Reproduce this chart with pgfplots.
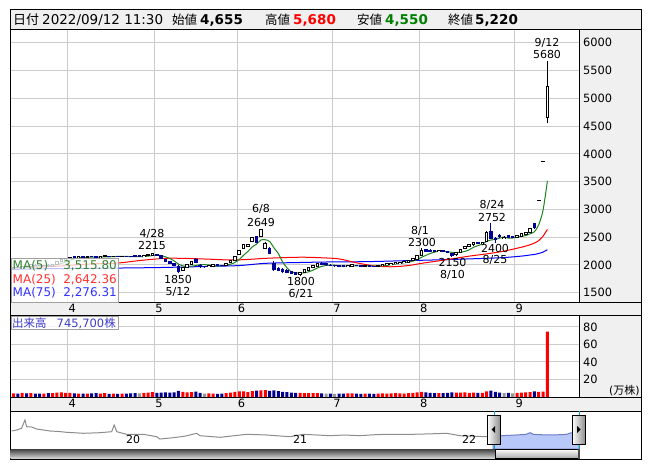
\documentclass[border=0pt]{standalone}
\usepackage{fontspec}
\setmainfont{DejaVu Sans}
\newfontfamily\jp{Noto Sans CJK JP}
\usepackage{pgfplots}
\usepackage{pgfplotstable}
\pgfplotsset{compat=1.18}

\definecolor{panel}{RGB}{240,240,240}
\definecolor{gridc}{RGB}{204,204,204}
\definecolor{cblue}{RGB}{0,0,150}
\definecolor{vred}{RGB}{255,0,0}
\definecolor{vblue}{RGB}{0,0,140}
\definecolor{vgray}{RGB}{150,150,150}
\definecolor{ma5}{RGB}{30,130,30}
\definecolor{ma25}{RGB}{255,0,0}
\definecolor{ma75}{RGB}{0,0,255}
\definecolor{navline}{RGB}{140,140,140}
\definecolor{navfill}{RGB}{184,200,248}
\definecolor{navblue}{RGB}{110,125,200}
\definecolor{selc}{RGB}{0,160,210}
\definecolor{hgreen}{RGB}{0,128,0}
\definecolor{boxgray}{RGB}{160,160,160}
\definecolor{voltext}{RGB}{60,60,200}
\definecolor{txtgreen}{RGB}{50,130,50}
\definecolor{txtred}{RGB}{255,50,50}
\definecolor{txtblue}{RGB}{50,50,255}

\newcommand\tk{\fontsize{11.4}{13}\selectfont}
\newcommand\an{\fontsize{11}{13}\selectfont}
\newcommand\hd{\fontsize{13.5}{15}\selectfont}

\pgfplotsset{
  upday/.style={restrict expr to domain={\thisrow{u}}{0.5:1.5}},
  downday/.style={restrict expr to domain={\thisrow{u}}{-0.5:0.5}},
  candlebase/.style={draw=none, mark=none, forget plot,
    error bars/y dir=plus, error bars/y explicit, error bars/error mark=none},
  volbar/.style={ybar, bar width=3pt, bar shift=0pt, draw=none, forget plot},
  panelaxis/.style={
    scale only axis, width=569pt,
    xmin=-13.82, xmax=117.28,
    axis line style={draw=none},
    major tick length=0pt,
    xtick={-0.5,19.5,38.5,60.5,80.5,102.5},
    xticklabels={4,5,6,7,8,9},
    xmajorgrids, ymajorgrids,
    grid style={gridc, line width=1pt},
    tick label style={font=\tk, inner sep=0pt},
    xticklabel style={anchor=north, xshift=4.5pt},
    yticklabel pos=right,
    yticklabel style={anchor=west, xshift=4pt},
  },
}

% day index (0 = 2022/4/1), open, high, low, close, volume (10k shares), volume colour, up candle, MA5
\pgfplotstableread{
i o h l c v k u m5
-14 1950 1960 1920 1930 4.5 2 0 1950
-13 1930 1970 1925 1960 4.2 1 1 1952
-12 1960 1975 1940 1950 4.0 2 0 1953
-11 1950 1990 1945 1980 4.6 1 1 1955
-10 1980 1990 1960 1970 4.1 2 0 1958
-9 1970 2010 1965 2000 4.4 1 1 1972
-8 2000 2010 1980 1990 3.9 2 0 1978
-7 1990 2000 1975 1985 3.8 2 0 1985
-6 1985 2005 1980 1995 4.0 1 1 1988
-5 2000 2010 1970 1980 4.3 2 0 1990
-4 1980 2020 1975 2010 4.5 1 1 1992
-3 2010 2070 2005 2060 5.0 1 1 2006
-2 2060 2110 2050 2100 5.2 1 1 2029
-1 2100 2130 2090 2120 4.8 1 1 2054
0 2120 2150 2110 2140 4.6 1 1 2086
1 2150 2160 2125 2130 4.2 2 0 2110
2 2130 2160 2120 2150 4.0 1 1 2128
3 2150 2160 2130 2135 3.8 2 0 2135
4 2135 2160 2130 2150 3.9 1 1 2141
5 2160 2165 2135 2140 4.1 2 0 2141
6 2150 2160 2125 2130 4.3 2 0 2141
7 2130 2160 2125 2150 4.0 1 1 2141
8 2150 2175 2145 2165 4.4 1 1 2147
9 2165 2170 2140 2150 3.7 2 0 2147
10 2150 2170 2145 2160 3.9 1 1 2151
11 2160 2170 2140 2150 3.6 2 0 2155
12 2145 2170 2140 2160 4.0 1 1 2157
13 2160 2170 2145 2150 3.8 2 0 2154
14 2160 2165 2135 2140 4.2 2 0 2152
15 2170 2180 2145 2150 4.5 2 0 2150
16 2180 2185 2145 2150 4.1 3 0 2150
17 2150 2180 2145 2170 4.6 1 1 2152
18 2170 2195 2160 2185 5.0 1 1 2159
19 2170 2215 2165 2200 5.6 1 1 2171
20 2190 2200 2160 2170 4.8 2 0 2175
21 2170 2180 2110 2120 5.1 2 0 2169
22 2100 2110 2050 2060 5.3 2 0 2147
23 2060 2070 2020 2030 4.9 2 0 2116
24 2030 2040 1980 1990 5.4 2 0 2074
25 1980 2000 1850 1880 7.0 2 0 2016
26 1900 1970 1890 1960 6.0 1 1 1984
27 1960 2020 1950 2010 5.2 1 1 1974
28 2010 2070 2000 2060 5.5 1 1 1980
29 2110 2120 2030 2040 6.2 2 0 1990
30 2000 2010 1950 1960 4.8 2 0 2006
31 1980 1990 1950 1960 4.0 3 0 2006
32 1970 2000 1960 1990 4.1 1 1 2002
33 1980 2010 1975 2000 3.9 1 1 1990
34 2010 2015 1985 1990 3.7 2 0 1980
35 2000 2005 1980 1985 3.8 2 0 1985
36 1990 2030 1985 2020 4.4 1 1 1997
37 2040 2090 2030 2080 5.0 1 1 2015
38 2080 2160 2075 2150 5.8 1 1 2045
39 2190 2270 2180 2260 6.3 1 1 2099
40 2300 2380 2290 2370 6.5 1 1 2176
41 2330 2380 2320 2360 5.6 1 1 2244
42 2420 2500 2410 2490 6.8 1 1 2326
43 2510 2530 2390 2400 7.2 2 0 2376
44 2510 2649 2500 2630 7.5 1 1 2450
45 2300 2420 2280 2390 7.8 1 1 2454
46 2300 2320 2200 2210 7.0 2 0 2424
47 2040 2080 1900 1910 7.6 2 0 2308
48 1950 1970 1890 1900 6.8 2 0 2208
49 1920 1940 1860 1870 6.0 2 0 2056
50 1910 1920 1850 1860 5.5 2 0 1950
51 1880 1890 1830 1840 5.0 2 0 1876
52 1870 1875 1815 1830 4.8 2 0 1860
53 1830 1880 1800 1860 4.6 1 1 1852
54 1860 1920 1855 1910 4.5 1 1 1860
55 1900 1960 1895 1950 4.4 1 1 1878
56 1950 2000 1940 1990 4.3 1 1 1908
57 1980 2030 1975 2020 4.5 1 1 1946
58 2040 2050 1995 2000 4.2 2 0 1974
59 2030 2035 1990 2000 3.9 3 0 1992
60 2000 2010 1975 1980 3.8 2 0 1998
61 1990 2000 1970 1980 3.7 3 0 1996
62 1990 1995 1960 1970 3.9 2 0 1986
63 1990 1995 1955 1965 4.0 2 0 1979
64 1975 2005 1970 1995 4.2 1 1 1978
65 1965 2010 1960 2000 4.1 1 1 1982
66 2000 2005 1980 1985 3.8 2 0 1983
67 1995 2000 1970 1975 3.7 2 0 1984
68 1980 1995 1975 1990 3.9 1 1 1989
69 1990 1995 1965 1970 3.8 2 0 1984
70 1985 1990 1970 1975 3.6 2 0 1979
71 1975 1995 1970 1990 3.9 1 1 1980
72 1990 2015 1985 2010 4.1 1 1 1987
73 2000 2025 1995 2020 4.0 1 1 1993
74 2010 2035 2005 2030 4.2 1 1 2005
75 2020 2045 2015 2040 4.3 1 1 2018
76 2030 2055 2025 2050 4.1 1 1 2030
77 2040 2065 2035 2060 4.0 1 1 2040
78 2050 2085 2045 2080 4.4 1 1 2052
79 2080 2125 2075 2120 4.8 1 1 2070
80 2100 2180 2095 2170 5.4 1 1 2096
81 2170 2300 2165 2260 6.0 1 1 2138
82 2280 2290 2230 2240 5.2 2 0 2174
83 2270 2280 2235 2245 4.8 2 0 2207
84 2265 2270 2230 2240 4.5 2 0 2231
85 2240 2270 2235 2260 4.4 1 1 2249
86 2260 2265 2230 2240 4.3 2 0 2245
87 2250 2255 2210 2220 4.6 2 0 2241
88 2210 2220 2150 2170 5.3 2 0 2226
89 2180 2240 2170 2230 4.9 1 1 2224
90 2230 2290 2225 2280 5.0 1 1 2228
91 2290 2340 2280 2330 5.2 1 1 2246
92 2330 2370 2320 2360 4.8 1 1 2274
93 2360 2410 2350 2400 5.0 1 1 2320
94 2410 2420 2370 2380 4.6 2 0 2350
95 2380 2410 2370 2400 4.7 1 1 2374
96 2420 2610 2410 2590 6.3 1 1 2426
97 2600 2752 2460 2480 7.2 2 0 2450
98 2490 2510 2400 2450 6.0 2 0 2460
99 2540 2560 2490 2500 5.0 2 0 2484
100 2480 2520 2470 2500 4.5 3 1 2504
101 2530 2540 2480 2490 4.6 2 0 2484
102 2510 2520 2480 2490 4.2 3 0 2486
103 2490 2545 2485 2530 4.8 1 1 2502
104 2520 2570 2515 2560 5.0 1 1 2514
105 2540 2590 2535 2580 5.2 1 1 2530
106 2590 2665 2580 2652 5.6 1 1 2562
107 2750 2760 2650 2669 6.5 2 0 2598
108 3169 3169 3169 3169 6.0 1 1 2726
109 3869 3869 3869 3869 6.2 1 1 2988
110 4655 5680 4550 5220 74.57 1 1 3516
}\stock

\pgfplotstableread{
i m
-13.8 1945
-5 1970
0 1995
5 2020
11 2035
16 2080
22 2120
27 2118
32 2105
37 2090
41 2100
45 2120
50 2135
54 2140
58 2130
62 2110
66 2040
70 1985
74 1968
78 1990
81 2030
85 2075
88 2110
92 2160
96 2200
100 2250
104 2320
105 2340
106 2365
107 2395
108 2440
109 2520
110 2642
}\matwentyfive

\pgfplotstableread{
i m
-13.8 1920
-4 1935
5 1940
11 1945
21 1955
32 1975
39 1990
45 2030
53 2045
60 2055
68 2060
76 2075
88 2100
99 2130
104 2160
106 2180
107 2190
108 2208
109 2233
110 2276
}\maseventyfive

\pgfplotstableread{
yr h
2019.320 18
2019.349 19
2019.379 20.7
2019.399 29
2019.409 22.3
2019.439 22
2019.468 20
2019.548 18
2019.600 17.5
2019.647 16.7
2019.700 16.2
2019.746 15.7
2019.845 16.3
2019.915 17.3
2019.930 24
2019.945 17.3
2020.004 14.7
2020.103 14.7
2020.183 12.3
2020.202 10
2020.282 11.3
2020.350 12.8
2020.421 15.7
2020.440 13.3
2020.560 11.7
2020.640 13.2
2020.718 14.7
2020.838 14
2020.976 12.3
2021.055 14.7
2021.214 13.3
2021.300 14.0
2021.393 13.3
2021.470 14.2
2021.552 14.7
2021.710 14.7
2021.800 15.1
2021.909 15.7
2021.988 13.3
2022.060 12.8
2022.147 12.3
2022.185 12.8
}\navall

\pgfplotstableread{
yr h
2022.185 12.8
2022.226 13.3
2022.300 13.8
2022.380 14.6
2022.405 16.3
2022.424 14.7
2022.480 14.2
2022.543 14
2022.620 14.6
2022.653 16.3
2022.696 17.3
}\navsel

\begin{document}
\begin{tikzpicture}
\useasboundingbox (0pt,0pt) rectangle (653pt,-470pt);

% background panels
\begin{scope}[x=1pt,y=-1pt]
\fill[panel] (10,10) rectangle (641,30);
\fill[panel] (579,30) rectangle (641,302);
\fill[panel] (10,302) rectangle (641,315);
\fill[panel] (579,315) rectangle (641,397);
\fill[panel] (10,397) rectangle (641,411);
\end{scope}

% price panel
\begin{axis}[panelaxis,
  at={(10pt,-302pt)}, anchor=south west, height=272pt,
  ymin=1334, ymax=6230,
  ytick={1500,2000,2500,3000,3500,4000,4500,5000,5500,6000},
  yticklabels={1500,2000,2500,3000,3500,4000,4500,5000,5500,6000},
  xticklabel style={yshift=-2pt},
]
\addplot[ma75, line width=1pt, smooth, forget plot] table[x=i, y=m]{\maseventyfive};
\addplot[ma25, line width=1pt, smooth, forget plot] table[x=i, y=m]{\matwentyfive};
\addplot[ma5, line width=1pt, smooth, forget plot] table[x=i, y=m5]{\stock};
% rising candles: wick, outline, white body
\addplot[candlebase, upday, error bars/error bar style={draw=black, line width=1pt}]
  table[x=i, y=l, y error expr={\thisrow{h}-\thisrow{l}}]{\stock};
\addplot[candlebase, upday, error bars/error bar style={draw=black, line width=3.6pt}]
  table[x=i, y expr={min(\thisrow{o},\thisrow{c})-9}, y error expr={abs(\thisrow{c}-\thisrow{o})+18}]{\stock};
\addplot[candlebase, upday, error bars/error bar style={draw=white, line width=1.6pt}]
  table[x=i, y expr={min(\thisrow{o},\thisrow{c})+9}, y error expr={max(abs(\thisrow{c}-\thisrow{o})-18,0)}]{\stock};
% falling candles
\addplot[candlebase, downday, error bars/error bar style={draw=cblue, line width=1pt}]
  table[x=i, y=l, y error expr={\thisrow{h}-\thisrow{l}}]{\stock};
\addplot[candlebase, downday, error bars/error bar style={draw=cblue, line width=3.6pt}]
  table[x=i, y expr={min(\thisrow{o},\thisrow{c})-4}, y error expr={abs(\thisrow{c}-\thisrow{o})+8}]{\stock};
\end{axis}

% volume panel
\begin{axis}[panelaxis,
  at={(10pt,-397pt)}, anchor=south west, height=82pt,
  ymin=0, ymax=93.7,
  ytick={20,40,60,80}, yticklabels={20,40,60,80},
  xticklabel style={yshift=-1.5pt},
]
\addplot[volbar, fill=vred, restrict expr to domain={\thisrow{k}}{0.5:1.5}] table[x=i, y=v]{\stock};
\addplot[volbar, fill=vblue, restrict expr to domain={\thisrow{k}}{1.5:2.5}] table[x=i, y=v]{\stock};
\addplot[volbar, fill=vgray, restrict expr to domain={\thisrow{k}}{2.5:3.5}] table[x=i, y=v]{\stock};
\end{axis}

% navigator
\begin{axis}[at={(10pt,-449pt)}, anchor=south west, scale only axis,
  width=569pt, height=38pt, xmin=2019.31, xmax=2022.696, ymin=0, ymax=38, hide axis]
\addplot[navline, line width=1pt] table[x=yr, y=h]{\navall};
\addplot[navblue, fill=navfill, line width=1pt] table[x=yr, y=h]{\navsel} \closedcycle;
\end{axis}

\begin{scope}[x=1pt,y=-1pt]
% frame lines
\draw[black, line width=1pt] (10,10) rectangle (641,459);
\draw[black, line width=1pt] (10,30) -- (641,30);
\draw[black, line width=1pt] (10,302) -- (641,302);
\draw[black, line width=1pt] (10,315) -- (641,315);
\draw[black, line width=1pt] (10,397) -- (641,397);
\draw[black, line width=1pt] (10,411) -- (641,411);
\draw[black, line width=1pt] (579,30) -- (579,302);
\draw[black, line width=1pt] (579,315) -- (579,397);

% header
\node[anchor=base west, inner sep=0pt] at (13,25) {\fontsize{13}{15}\selectfont\jp 日付};
\node[anchor=base west, inner sep=0pt] at (42,25) {\hd 2022/09/12 11:30};
\node[anchor=base west, inner sep=0pt] at (172,25) {\fontsize{12.5}{15}\selectfont\jp 始値};
\node[anchor=base west, inner sep=0pt] at (200,25) {\hd\bfseries 4,655};
\node[anchor=base west, inner sep=0pt] at (265,25) {\fontsize{12.5}{15}\selectfont\jp 高値};
\node[anchor=base west, inner sep=0pt, text=vred] at (293,25) {\hd\bfseries 5,680};
\node[anchor=base west, inner sep=0pt] at (357,25) {\fontsize{12.5}{15}\selectfont\jp 安値};
\node[anchor=base west, inner sep=0pt, text=hgreen] at (385,25) {\hd\bfseries 4,550};
\node[anchor=base west, inner sep=0pt] at (448,25) {\fontsize{12.5}{15}\selectfont\jp 終値};
\node[anchor=base west, inner sep=0pt] at (475,25) {\hd\bfseries 5,220};

% high / low annotations
\node[anchor=base, inner sep=0pt] at (152,238) {\an 4/28};
\node[anchor=base, inner sep=0pt] at (152,250) {\an 2215};
\node[anchor=base, inner sep=0pt] at (178,283.3) {\an 1850};
\node[anchor=base, inner sep=0pt] at (178,295.5) {\an 5/12};
\node[anchor=base, inner sep=0pt] at (261,213) {\an 6/8};
\node[anchor=base, inner sep=0pt] at (261,226.5) {\an 2649};
\node[anchor=base, inner sep=0pt] at (301,286) {\an 1800};
\node[anchor=base, inner sep=0pt] at (301,298) {\an 6/21};
\node[anchor=base, inner sep=0pt] at (420,235) {\an 8/1};
\node[anchor=base, inner sep=0pt] at (422,246.7) {\an 2300};
\node[anchor=base, inner sep=0pt] at (492,208.5) {\an 8/24};
\node[anchor=base, inner sep=0pt] at (492,221.7) {\an 2752};
\node[anchor=base, inner sep=0pt] at (495,252.7) {\an 2400};
\node[anchor=base, inner sep=0pt] at (495,264) {\an 8/25};
\node[anchor=base, inner sep=0pt] at (452.5,266.7) {\an 2150};
\node[anchor=base, inner sep=0pt] at (452.5,278.5) {\an 8/10};
\node[anchor=base, inner sep=0pt] at (547,46.7) {\an 9/12};
\node[anchor=base, inner sep=0pt] at (547,59) {\an 5680};

% moving-average legend
\filldraw[fill=white, fill opacity=0.75, draw=boxgray, line width=1pt] (11,258.5) rectangle (118,302);
\node[anchor=base west, inner sep=0pt, text=txtgreen] at (12.5,270) {\fontsize{12}{14}\selectfont MA(5)};
\node[anchor=base east, inner sep=0pt, text=txtgreen] at (117,270) {\fontsize{12}{14}\selectfont 3,515.80};
\node[anchor=base west, inner sep=0pt, text=txtred] at (12.5,283.5) {\fontsize{12}{14}\selectfont MA(25)};
\node[anchor=base east, inner sep=0pt, text=txtred] at (117,283.5) {\fontsize{12}{14}\selectfont 2,642.36};
\node[anchor=base west, inner sep=0pt, text=txtblue] at (12.5,297) {\fontsize{12}{14}\selectfont MA(75)};
\node[anchor=base east, inner sep=0pt, text=txtblue] at (117,297) {\fontsize{12}{14}\selectfont 2,276.31};

% volume label
\filldraw[fill=white, fill opacity=0.8, draw=boxgray, line width=1pt] (11,316) rectangle (118,329.5);
\node[anchor=base west, inner sep=0pt, text=voltext] at (12,327) {\fontsize{11.5}{13}\selectfont{\jp 出来高}\hspace{10pt}745,700{\jp 株}};
\node[anchor=base west, inner sep=0pt] at (609,394.5) {\fontsize{11}{13}\selectfont({\jp 万株})};

% navigator decorations
\node[anchor=base west, inner sep=0pt] at (126,443) {\an 20};
\node[anchor=base west, inner sep=0pt] at (293,443) {\an 21};
\node[anchor=base west, inner sep=0pt] at (462,443) {\an 22};
\draw[selc, line width=1pt] (494,411) -- (494,449);
\draw[selc, line width=1pt] (579.5,411) -- (579.5,449);
\shade[top color=black!75, bottom color=black!15] (10.5,449) rectangle (495,458.5);
\shade[top color=white, bottom color=black!35] (495,449) rectangle (578,458.5);
\draw[black, line width=0.8pt] (495,449) rectangle (578,458.5);
\fill[black!70] (578,449) rectangle (580,458.5);
\shade[left color=white, right color=black!45] (487,415) rectangle (500.5,444);
\draw[black, line width=1pt] (487,415) rectangle (500.5,444);
\fill[black] (491.5,429.5) -- (495,426) -- (495,433) -- cycle;
\shade[left color=white, right color=black!45] (572,415) rectangle (585.5,444);
\draw[black, line width=1pt] (572,415) rectangle (585.5,444);
\fill[black] (580.5,429.5) -- (577,426) -- (577,433) -- cycle;
\end{scope}
\end{tikzpicture}
\end{document}
